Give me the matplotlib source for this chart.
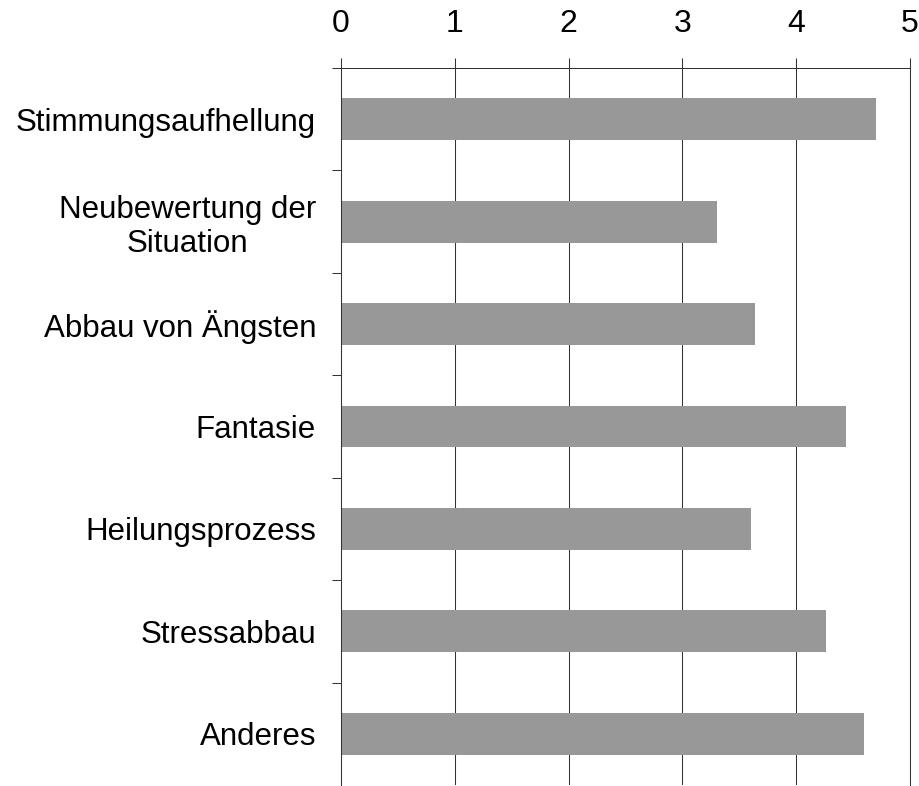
import numpy as np
import matplotlib
matplotlib.use('Agg')
import matplotlib.pyplot as plt
from matplotlib.ticker import FixedLocator

plt.rcParams['font.family'] = ['Liberation Sans', 'DejaVu Sans']

categories = ['Stimmungsaufhellung', 'Neubewertung der\nSituation', 'Abbau von Ängsten',
              'Fantasie', 'Heilungsprozess', 'Stressabbau', 'Anderes']
values = [4.70, 3.30, 3.64, 4.44, 3.60, 4.26, 4.60]
x_ticks = [0, 1, 2, 3, 4, 5]

fig = plt.figure(figsize=(9.2, 7.86), dpi=100)
ax = fig.add_axes([341 / 920, 1 / 786, (910 - 341) / 920, (785 - 68) / 786])

pos = np.arange(len(categories))
ax.barh(pos, values, height=0.41, color='#989898', zorder=2)

ax.set_xlim(0, 5)
ax.set_ylim(len(categories) - 0.5, -0.5)

lw = 0.75
ax.xaxis.tick_top()
ax.set_xticks(x_ticks)
ax.set_xticklabels([str(t) for t in x_ticks], fontsize=23)
ax.tick_params(axis='x', length=7.2, width=lw, color='#333333', pad=14)
ax.grid(axis='x', color='#333333', linewidth=lw, zorder=1)
ax.set_axisbelow(True)

ax.set_yticks(pos)
ax.set_yticklabels(categories, fontsize=22.5, multialignment='center', linespacing=1.15)
ax.tick_params(axis='y', which='major', length=0, pad=18)
ax.yaxis.set_minor_locator(FixedLocator(np.arange(-0.5, len(categories) - 1, 1.0)))
ax.tick_params(axis='y', which='minor', length=6.5, width=lw, color='#333333')

ax.spines['bottom'].set_visible(False)
for side in ['right', 'top', 'left']:
    ax.spines[side].set_color('#333333')
    ax.spines[side].set_linewidth(lw)

fig.savefig('out.png', dpi=100)
